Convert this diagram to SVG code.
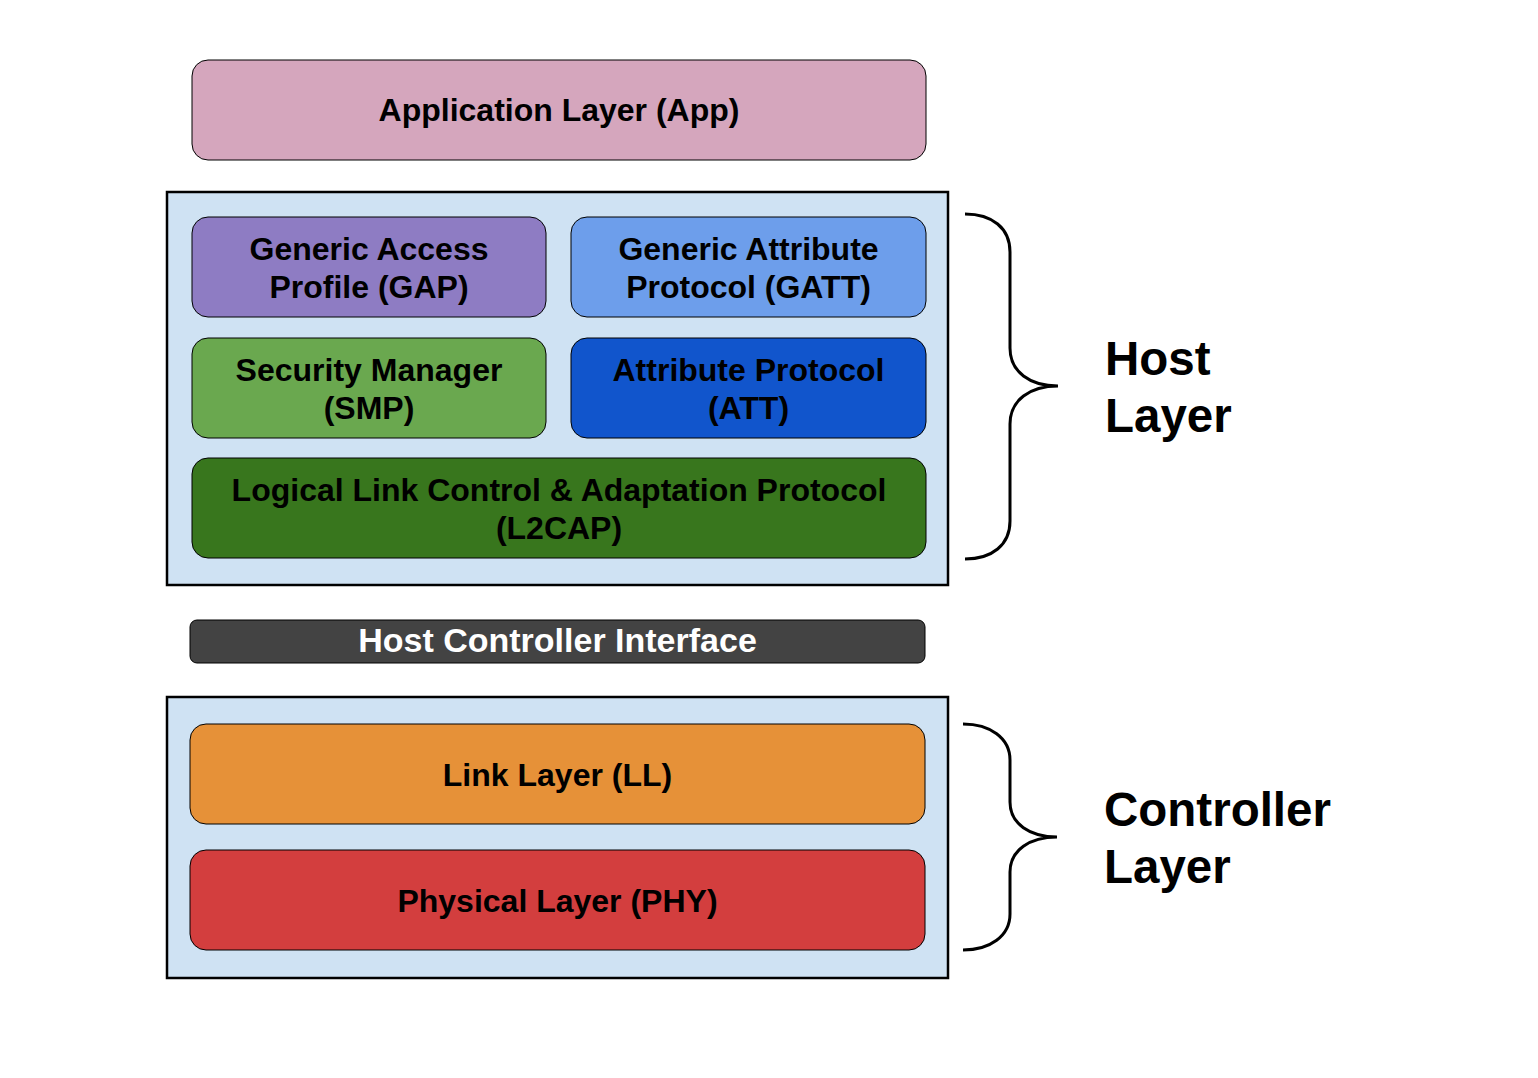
<svg xmlns="http://www.w3.org/2000/svg" width="1538" height="1078" viewBox="0 0 1538 1078">
<style>
.box{stroke:#000;stroke-width:1}
.cont{fill:#CFE2F3;stroke:#000;stroke-width:2.5}
text{font-family:"Liberation Sans",Arial,sans-serif;font-weight:bold;text-anchor:middle;fill:#000}
.t{font-size:32px}
.big{font-size:47.5px;text-anchor:start}
.brace{fill:none;stroke:#000;stroke-width:3}
</style>
<rect width="1538" height="1078" fill="#fff"/>
<g id="app"><rect class="box" x="192" y="60" width="734" height="100" rx="16" fill="#D5A6BD"/><text class="t" x="559" y="121">Application Layer (App)</text></g>
<g id="host-layer"><rect class="cont" x="167" y="192" width="781" height="393"/></g>
<g id="gap"><rect class="box" x="192" y="217" width="354" height="100" rx="16" fill="#8E7CC3"/><text class="t" x="369" y="260">Generic Access</text><text class="t" x="369" y="298">Profile (GAP)</text></g>
<g id="gatt"><rect class="box" x="571" y="217" width="355" height="100" rx="16" fill="#6D9EEB"/><text class="t" x="748.5" y="260">Generic Attribute</text><text class="t" x="748.5" y="298">Protocol (GATT)</text></g>
<g id="smp"><rect class="box" x="192" y="338" width="354" height="100" rx="16" fill="#6AA84F"/><text class="t" x="369" y="381">Security Manager</text><text class="t" x="369" y="419">(SMP)</text></g>
<g id="att"><rect class="box" x="571" y="338" width="355" height="100" rx="16" fill="#1155CC"/><text class="t" x="748.5" y="381">Attribute Protocol</text><text class="t" x="748.5" y="419">(ATT)</text></g>
<g id="l2cap"><rect class="box" x="192" y="458" width="734" height="100" rx="16" fill="#38761D"/><text class="t" x="559" y="501">Logical Link Control &amp; Adaptation Protocol</text><text class="t" x="559" y="539">(L2CAP)</text></g>
<g id="hci"><rect class="box" x="190" y="620" width="735" height="43" rx="7" fill="#434343"/><text x="557.5" y="652" style="fill:#fff;font-size:34px">Host Controller Interface</text></g>
<g id="controller-layer"><rect class="cont" x="167" y="697" width="781" height="281"/></g>
<g id="ll"><rect class="box" x="190" y="724" width="735" height="100" rx="16" fill="#E69138"/><text class="t" x="557.5" y="786">Link Layer (LL)</text></g>
<g id="phy"><rect class="box" x="190" y="850" width="735" height="100" rx="16" fill="#D33E3E"/><text class="t" x="557.5" y="912">Physical Layer (PHY)</text></g>
<g id="connectors">
<path class="brace" d="M965,214 C992,214 1010,228 1010,252 L1010,348 C1010,372 1030,386 1058,386 C1030,386 1010,400 1010,424 L1010,521 C1010,545 992,559 965,559"/>
<path class="brace" d="M963,724 C990,724 1010,738 1010,760 L1010,802 C1010,824 1030,837 1057,837 C1030,837 1010,850 1010,872 L1010,914 C1010,936 990,950 963,950"/>
</g>
<g id="host-label"><text class="big" x="1105" y="375">Host</text><text class="big" x="1105" y="432">Layer</text></g>
<g id="controller-label"><text class="big" x="1104" y="826">Controller</text><text class="big" x="1104" y="883">Layer</text></g>
</svg>
